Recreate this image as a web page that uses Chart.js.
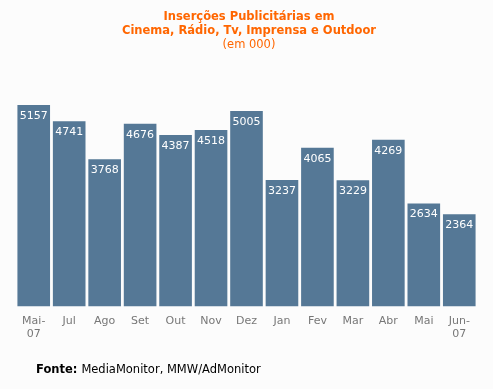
<!DOCTYPE html>
<html>
<head>
<meta charset="utf-8">
<script src="https://cdn.jsdelivr.net/npm/chart.js@4"></script>
<style>
  html, body { margin: 0; padding: 0; background: #fcfcfc; }
  #wrap { width: 493px; height: 389px; position: relative; }
</style>
</head>
<body>
<div id="wrap"><canvas id="chart" width="493" height="389"></canvas></div>
<script>
const months = [['Mai-', '07'], 'Jul', 'Ago', 'Set', 'Out', 'Nov', 'Dez', 'Jan', 'Fev', 'Mar', 'Abr', 'Mai', ['Jun-', '07']];
const insercoes = [5157, 4741, 3768, 4676, 4387, 4518, 5005, 3237, 4065, 3229, 4269, 2634, 2364];
const titleLines = ['Inserções Publicitárias em', 'Cinema, Rádio, Tv, Imprensa e Outdoor'];
const subTitle = '(em 000)';

const FONT = '"DejaVu Sans", Verdana, sans-serif';

// textos do topo e do rodapé + valores dentro das barras
const textPlugin = {
    id: 'texts',
    afterDatasetsDraw(chart) {
        const ctx = chart.ctx;
        ctx.save();
        ctx.textAlign = 'center';
        ctx.textBaseline = 'middle';
        ctx.fillStyle = '#ffffff';
        ctx.font = '11px ' + FONT;
        chart.getDatasetMeta(0).data.forEach((bar, i) => {
            ctx.fillText(insercoes[i], bar.x, bar.y + 11);
        });
        ctx.restore();
    },
    afterDraw(chart) {
        const ctx = chart.ctx;
        ctx.save();
        ctx.textBaseline = 'middle';
        ctx.textAlign = 'center';
        ctx.fillStyle = '#ff6600';
        ctx.font = 'bold 11.5px ' + FONT;
        ctx.fillText(titleLines[0], 249, 17);
        ctx.fillText(titleLines[1], 249, 31);
        ctx.font = '11.5px ' + FONT;
        ctx.fillText(subTitle, 249, 45);

        ctx.textAlign = 'left';
        ctx.fillStyle = '#000000';
        ctx.font = 'bold 11.5px ' + FONT;
        ctx.fillText('Fonte:', 36, 370);
        const w = ctx.measureText('Fonte: ').width;
        ctx.font = '11.5px ' + FONT;
        ctx.fillText('MediaMonitor, MMW/AdMonitor', 36 + w, 370);
        ctx.restore();
    }
};

new Chart(document.getElementById('chart'), {
    type: 'bar',
    data: {
        labels: months,
        datasets: [{
            data: insercoes,
            backgroundColor: '#557896',
            borderWidth: 0,
            barPercentage: 0.92,
            categoryPercentage: 1.0
        }]
    },
    options: {
        responsive: false,
        animation: false,
        layout: { padding: { top: 72, left: 16, right: 16, bottom: 48 } },
        plugins: {
            legend: { display: false },
            tooltip: { enabled: false }
        },
        scales: {
            x: {
                grid: { display: false, drawBorder: false },
                border: { display: false },
                ticks: {
                    color: '#777777',
                    font: { family: FONT, size: 11 },
                    padding: 0,
                    maxRotation: 0,
                    autoSkip: false
                }
            },
            y: {
                display: false,
                min: 0,
                max: 6000
            }
        }
    },
    plugins: [textPlugin]
});
</script>
</body>
</html>
